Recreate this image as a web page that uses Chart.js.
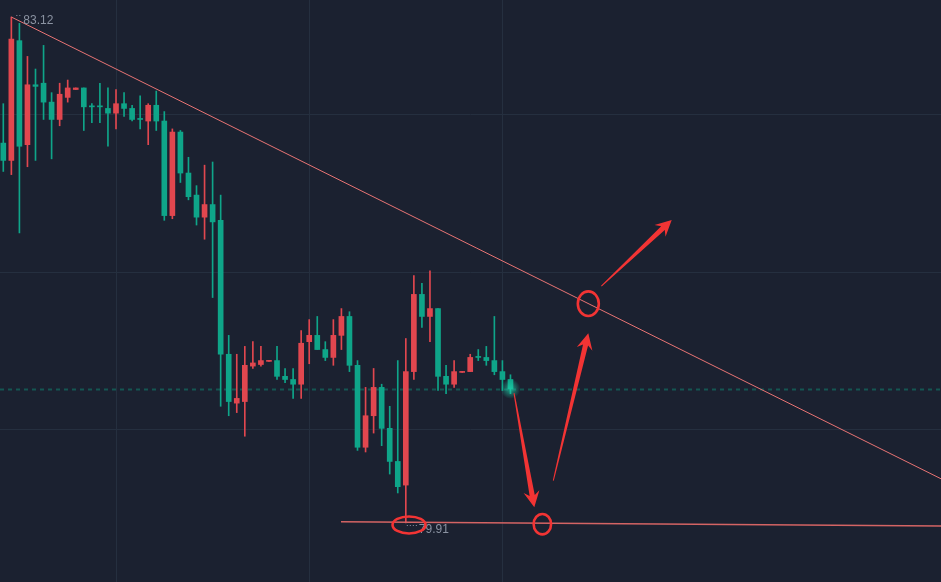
<!DOCTYPE html>
<html>
<head>
<meta charset="utf-8">
<script src="https://cdn.jsdelivr.net/npm/chart.js@4/dist/chart.umd.min.js"></script>
<style>
  html, body { margin: 0; padding: 0; background: #1b2130; }
  #wrap { width: 941px; height: 582px; position: relative; }
</style>
</head>
<body>
<div id="wrap"><canvas id="chart"></canvas></div>
<script>
// candle data, one entry per bar (index 0..63)
const opens = [
  82.32, 82.21, 82.97, 82.31, 82.69, 82.70, 82.58, 82.47, 82.61, 82.66,
  82.67, 82.55, 82.55, 82.54, 82.51, 82.57, 82.54, 82.47, 82.46, 82.56,
  82.46, 81.86, 82.39, 82.13, 81.99, 81.85, 81.93, 81.83, 80.98, 80.67,
  80.68, 80.905, 80.915, 80.935, 80.94, 80.84, 80.82, 80.79, 81.06, 81.10,
  81.01, 80.96, 81.10, 81.22, 80.91, 80.39, 80.59, 80.77, 80.51, 80.30,
  80.15, 80.87, 81.36, 81.22, 81.27, 80.84, 80.79, 80.865, 80.87, 80.96,
  80.96, 80.94, 80.87, 80.82
];
const highs = [
  82.57, 83.12, 83.08, 82.87, 82.79, 82.94, 82.64, 82.70, 82.72, 82.67,
  82.67, 82.57, 82.70, 82.67, 82.66, 82.64, 82.56, 82.62, 82.57, 82.65,
  82.52, 82.41, 82.40, 82.23, 82.05, 82.18, 82.20, 81.99, 81.10, 80.98,
  81.03, 81.06, 81.03, 80.94, 81.03, 80.89, 80.89, 81.13, 81.20, 81.22,
  81.06, 81.20, 81.27, 81.25, 80.94, 80.77, 80.89, 80.79, 80.65, 80.94,
  81.08, 81.48, 81.43, 81.51, 81.27, 80.91, 80.94, 80.87, 80.98, 81.01,
  81.03, 81.22, 80.94, 80.85
];
const lows = [
  82.14, 82.12, 81.75, 82.17, 82.21, 82.47, 82.22, 82.43, 82.58, 82.66,
  82.40, 82.45, 82.45, 82.30, 82.41, 82.49, 82.46, 82.41, 82.31, 82.40,
  81.83, 81.84, 82.07, 81.96, 81.80, 81.71, 81.34, 80.65, 80.59, 80.61,
  80.46, 80.89, 80.905, 80.935, 80.82, 80.80, 80.70, 80.70, 80.92, 81.01,
  80.94, 80.91, 81.01, 80.87, 80.37, 80.36, 80.48, 80.40, 80.22, 80.10,
  79.91, 80.82, 81.15, 81.06, 80.75, 80.73, 80.77, 80.865, 80.87, 80.94,
  80.91, 80.85, 80.75, 80.73
];
const closes = [
  82.21, 82.98, 82.30, 82.69, 82.68, 82.58, 82.47, 82.63, 82.67, 82.67,
  82.55, 82.55, 82.55, 82.51, 82.57, 82.54, 82.47, 82.47, 82.56, 82.46,
  81.86, 82.39, 82.13, 81.98, 81.85, 81.93, 81.82, 80.98, 80.68, 80.70,
  80.91, 80.925, 80.94, 80.94, 80.84, 80.82, 80.79, 81.05, 81.10, 81.01,
  80.96, 81.10, 81.22, 80.91, 80.39, 80.59, 80.77, 80.51, 80.30, 80.14,
  80.87, 81.36, 81.22, 81.27, 80.84, 80.79, 80.87, 80.87, 80.96, 80.96,
  80.94, 80.87, 80.82, 80.76
];
const lastPrice = 80.76;
const xGridLines = [14, 38, 62];
const yGridLines = [80.5, 81.5, 82.5];

// drawn markup, in [bar index, price]
const upperTrend = [[1, 83.12], [116.48, 80.19]];
const lowerTrend = [[41.95, 79.917], [116.48, 79.89]];
const arrows = [
  [[63.44, 80.734], [65.96, 80.009]],
  [[68.32, 80.178], [72.67, 81.113]],
  [[74.29, 81.413], [83.03, 81.832]]
];
const rings = [
  { at: [50.40, 79.897], rx: 16.5, ry: 8.5 },
  { at: [66.96, 79.902], rx: 8.7, ry: 10.2 },
  { at: [72.67, 81.301], rx: 10.5, ry: 12.3 }
];

const upColor = '#e1474f';
const downColor = '#0fa589';
const gridColor = '#252f3f';
const barColors = closes.map((c, i) => (c > opens[i] ? upColor : downColor));
const idx = closes.map((c, i) => i);

function drawArrow(ctx, x0, y0, x1, y1) {
  const dx = x1 - x0, dy = y1 - y0, len = Math.hypot(dx, dy);
  const ux = dx / len, uy = dy / len, nx = -uy, ny = ux;
  const head = 16, half = 8, neck = 2.6, notch = 4, tail = 0.5;
  const bx = x1 - ux * head, by = y1 - uy * head;
  const kx = x1 - ux * (head - notch), ky = y1 - uy * (head - notch);
  ctx.beginPath();
  ctx.moveTo(x0 + nx * tail, y0 + ny * tail);
  ctx.lineTo(kx + nx * neck, ky + ny * neck);
  ctx.lineTo(bx + nx * half, by + ny * half);
  ctx.lineTo(x1, y1);
  ctx.lineTo(bx - nx * half, by - ny * half);
  ctx.lineTo(kx - nx * neck, ky - ny * neck);
  ctx.lineTo(x0 - nx * tail, y0 - ny * tail);
  ctx.closePath();
  ctx.fill();
}

const overlay = {
  id: 'overlay',
  beforeDatasetsDraw(chart) {
    const { ctx, chartArea, scales: { y } } = chart;
    const py = Math.round(y.getPixelForValue(lastPrice)) + 0.5;
    ctx.save();
    ctx.strokeStyle = 'rgba(16,150,125,0.45)';
    ctx.lineWidth = 2;
    ctx.setLineDash([4, 4]);
    ctx.beginPath();
    ctx.moveTo(chartArea.left, py);
    ctx.lineTo(chartArea.right, py);
    ctx.stroke();
    ctx.restore();
  },
  afterDatasetsDraw(chart) {
    const { ctx, scales: { x, y } } = chart;
    const px = (p) => [x.getPixelForValue(p[0]), y.getPixelForValue(p[1])];
    ctx.save();

    // trend lines
    ctx.lineWidth = 1;
    ctx.strokeStyle = '#e87474';
    let a = px(upperTrend[0]), b = px(upperTrend[1]);
    ctx.beginPath(); ctx.moveTo(a[0], a[1]); ctx.lineTo(b[0], b[1]); ctx.stroke();
    ctx.lineWidth = 1.6;
    ctx.strokeStyle = '#d46464';
    a = px(lowerTrend[0]); b = px(lowerTrend[1]);
    ctx.beginPath(); ctx.moveTo(a[0], a[1]); ctx.lineTo(b[0], b[1]); ctx.stroke();

    // glow on the last candle
    const li = closes.length - 1;
    const [gx, gy] = px([li, closes[li]]);
    const g = ctx.createRadialGradient(gx, gy, 0, gx, gy, 10);
    g.addColorStop(0, 'rgba(30,210,170,0.75)');
    g.addColorStop(1, 'rgba(30,210,170,0)');
    ctx.fillStyle = g;
    ctx.beginPath(); ctx.arc(gx, gy, 10, 0, Math.PI * 2); ctx.fill();

    // high / low labels
    const hi = highs.indexOf(Math.max(...highs));
    const lo = lows.indexOf(Math.min(...lows));
    const [hx, hy] = px([hi, highs[hi]]);
    const [lx, ly] = px([lo, lows[lo]]);
    ctx.fillStyle = '#8b93a2';
    ctx.strokeStyle = '#8b93a2';
    ctx.font = '12px "Liberation Sans", Arial, sans-serif';
    ctx.textBaseline = 'middle';
    ctx.textAlign = 'left';
    ctx.fillText(highs[hi].toFixed(2), hx + 12, hy + 4);
    ctx.fillText(lows[lo].toFixed(2), lx + 13, ly + 7);
    ctx.lineWidth = 1;
    ctx.setLineDash([1, 2]);
    ctx.beginPath();
    ctx.moveTo(hx + 5, Math.round(hy) - 1.5); ctx.lineTo(hx + 11, Math.round(hy) - 1.5);
    ctx.moveTo(lx + 1, Math.round(ly) + 2.5); ctx.lineTo(lx + 11, Math.round(ly) + 2.5);
    ctx.stroke();
    ctx.setLineDash([]);

    // red markup
    ctx.fillStyle = '#f23434';
    ctx.strokeStyle = '#f23434';
    arrows.forEach(([from, to]) => {
      const p0 = px(from), p1 = px(to);
      drawArrow(ctx, p0[0], p0[1], p1[0], p1[1]);
    });
    ctx.lineWidth = 2.6;
    rings.forEach((r) => {
      const [cx, cy] = px(r.at);
      ctx.beginPath();
      ctx.ellipse(cx, cy, r.rx, r.ry, 0, 0, Math.PI * 2);
      ctx.stroke();
    });
    ctx.restore();
  }
};

new Chart(document.getElementById('chart'), {
  type: 'bar',
  data: {
    datasets: [
      {
        data: idx.map((i) => ({ x: i, y: [lows[i], highs[i]] })),
        backgroundColor: barColors,
        barThickness: 1,
        grouped: false,
        borderWidth: 0,
        minBarLength: 1
      },
      {
        data: idx.map((i) => ({ x: i, y: [opens[i], closes[i]] })),
        backgroundColor: barColors,
        barThickness: 5,
        grouped: false,
        borderWidth: 0,
        minBarLength: 1
      }
    ]
  },
  plugins: [overlay],
  options: {
    responsive: true,
    maintainAspectRatio: false,
    animation: false,
    layout: { padding: 0 },
    plugins: {
      legend: { display: false },
      tooltip: { enabled: false }
    },
    scales: {
      x: {
        type: 'linear',
        min: -0.41,
        max: 116.48,
        offset: false,
        grid: { color: gridColor, drawTicks: false, offset: false },
        border: { display: false },
        ticks: { display: false },
        afterBuildTicks: (scale) => { scale.ticks = xGridLines.map((v) => ({ value: v })); }
      },
      y: {
        min: 79.535,
        max: 83.228,
        grid: { color: gridColor, drawTicks: false },
        border: { display: false },
        ticks: { display: false },
        afterBuildTicks: (scale) => { scale.ticks = yGridLines.map((v) => ({ value: v })); }
      }
    }
  }
});
</script>
</body>
</html>
